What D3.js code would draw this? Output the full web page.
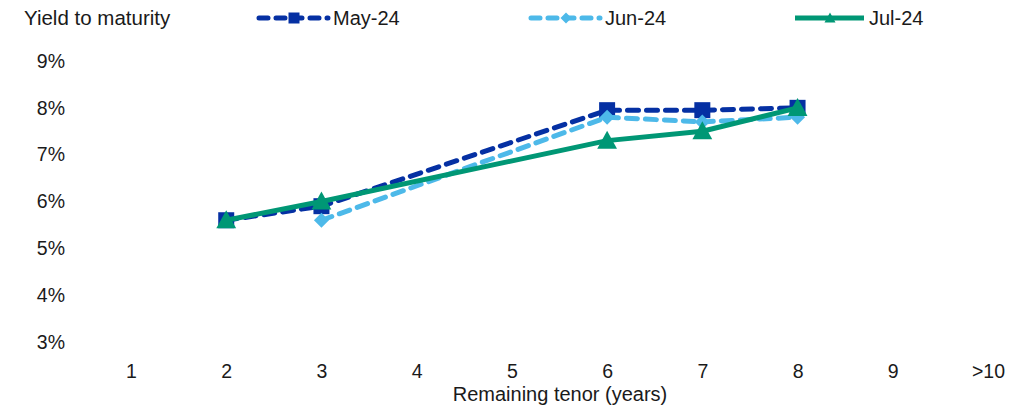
<!DOCTYPE html>
<html><head><meta charset="utf-8">
<script src="https://cdn.jsdelivr.net/npm/d3@7"></script>
<style>body{margin:0;background:#fff}svg{display:block}text{font-family:"Liberation Sans",Arial,sans-serif;fill:#1a1a1a}</style>
</head><body><svg id="c" width="1027" height="406"></svg>
<script>
const categories = ["1","2","3","4","5","6","7","8","9",">10"];
const yTicks = [3,4,5,6,7,8,9];
const seriesNames = ["May-24","Jun-24","Jul-24"];
const may24 = [null,5.6,5.9,null,null,7.95,7.95,8.0,null,null];
const jun24 = [null,null,5.6,null,null,7.8,7.7,7.8,null,null];
const jul24 = [null,5.6,6.0,null,null,7.3,7.5,8.0,null,null];

const svg = d3.select("#c");
const x = d3.scalePoint().domain(categories).range([131, 988]);
const y = d3.scaleLinear().domain([3, 9]).range([342, 61]);

const styles = [
  {name: seriesNames[0], data: may24, color: "#0530A3", dash: "11,8", marker: "square"},
  {name: seriesNames[1], data: jun24, color: "#4DB9E9", dash: "11,8", marker: "diamond"},
  {name: seriesNames[2], data: jul24, color: "#009775", dash: null, marker: "triangle"}
];

const FS = "19.5px";
// y axis labels
const yAxis = d3.axisLeft(y).tickValues(yTicks).tickSize(0).tickPadding(0).tickFormat(d => d + "%");
const gy = svg.append("g").attr("transform", "translate(65,0)").call(yAxis);
gy.select(".domain").remove();
gy.selectAll("text").style("font-size", FS).attr("fill", "#1a1a1a");

// x axis labels
const xAxis = d3.axisBottom(x).tickSize(0).tickPadding(0);
const gx = svg.append("g").attr("transform", "translate(0,364)").call(xAxis);
gx.select(".domain").remove();
gx.selectAll("text").style("font-size", FS).attr("fill", "#1a1a1a").attr("dy", "0.71em");

svg.append("text").attr("x", 560).attr("y", 401).attr("text-anchor", "middle")
  .style("font-size", "20px").text("Remaining tenor (years)");

function markerPath(type, s) {
  if (type === "square") return d3.symbol(d3.symbolSquare, s * s)();
  if (type === "diamond") return `M0,${-s/2}L${s/2},0L0,${s/2}L${-s/2},0Z`;
  return `M0,${-s*0.55}L${s*0.55},${s*0.45}L${-s*0.55},${s*0.45}Z`;
}
const msize = {square: 16, diamond: 15, triangle: 18};

const line = d3.line().defined(d => d.v != null).x(d => x(d.c)).y(d => y(d.v));
styles.forEach(s => {
  const pts = categories.map((c, i) => ({c, v: s.data[i]})).filter(d => d.v != null);
  svg.append("path").datum(pts).attr("d", line).attr("fill", "none")
    .attr("stroke", s.color).attr("stroke-width", 5)
    .attr("stroke-linecap", s.dash ? "round" : "butt")
    .attr("stroke-linejoin", "round")
    .attr("stroke-dasharray", s.dash);
  svg.append("g").selectAll("path").data(pts).join("path")
    .attr("transform", d => `translate(${x(d.c)},${y(d.v)})`)
    .attr("d", markerPath(s.marker, msize[s.marker])).attr("fill", s.color);
});

// legend
svg.append("text").attr("x", 24).attr("y", 25).style("font-size", "20.5px").text("Yield to maturity");
const legX = [257, 529, 793];
styles.forEach((s, i) => {
  const g = svg.append("g").attr("transform", `translate(${legX[i]},18)`);
  g.append("line").attr("x1", 2).attr("x2", 71).attr("y1", 0).attr("y2", 0)
    .attr("stroke", s.color).attr("stroke-width", 5)
    .attr("stroke-linecap", s.dash ? "round" : "butt")
    .attr("stroke-dasharray", s.dash ? "9,8" : null);
  g.append("path").attr("transform", "translate(37,0)").attr("d", markerPath(s.marker, s.marker === "triangle" ? 10 : 11)).attr("fill", s.color);
  g.append("text").attr("x", 76).attr("y", 7).style("font-size", "20px").text(s.name);
});
</script></body></html>
